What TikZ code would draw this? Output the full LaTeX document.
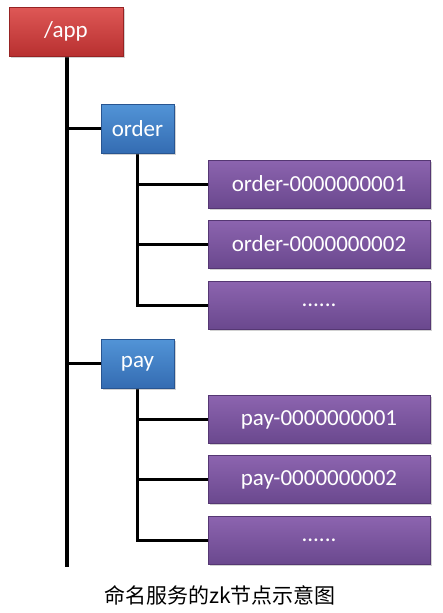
\documentclass[tikz,border=0pt]{standalone}
\usepackage{fontspec}
\setmainfont{Carlito}
\newfontfamily\cjk{Noto Sans CJK SC}
\usetikzlibrary{shadows}
\definecolor{redT}{RGB}{222,88,86}
\definecolor{redB}{RGB}{184,48,48}
\definecolor{redD}{RGB}{150,35,35}
\definecolor{bluT}{RGB}{82,148,215}
\definecolor{bluB}{RGB}{52,108,178}
\definecolor{bluD}{RGB}{40,85,145}
\definecolor{purT}{RGB}{140,100,175}
\definecolor{purB}{RGB}{106,72,142}
\definecolor{purD}{RGB}{85,55,115}
\tikzset{
  x=1pt,y=-1pt,
  boxbase/.style={rectangle,inner sep=0pt,text=white,draw,line width=0.6pt,
    drop shadow={shadow xshift=1.5pt,shadow yshift=-1.5pt,opacity=0.35},
    font=\fontsize{23}{26}\selectfont},
  redbox/.style={boxbase,top color=redT,bottom color=redB,draw=redD,minimum width=114pt,minimum height=49pt},
  blubox/.style={boxbase,top color=bluT,bottom color=bluB,draw=bluD,minimum width=73pt,minimum height=49pt},
  purbox/.style={boxbase,top color=purT,bottom color=purB,draw=purD,minimum width=222pt,minimum height=48pt},
  trunk/.style={line width=4pt,black},
  branch/.style={line width=3pt,black},
}
\begin{document}
\begin{tikzpicture}
\useasboundingbox (0,0) rectangle (443,613);
\fill[white] (0,0) rectangle (443,613);
\coordinate (tend) at (67,567);
\coordinate (oend) at (137,305);
\coordinate (pend) at (137,540);
% lines first
\draw[trunk] (67,56) -- (tend);
\draw[branch] (67,128.5) -- (101,128.5);
\draw[branch] (67,363.5) -- (101,363.5);
\draw[branch] (137,153) -- (oend) -- (208,305);
\draw[branch] (137,184) -- (208,184);
\draw[branch] (137,244) -- (208,244);
\draw[branch] (137,387) -- (pend) -- (208,540);
\draw[branch] (137,419) -- (208,419);
\draw[branch] (137,479) -- (208,479);
% nodes
\node[redbox] (app) at (66,31.5) {/app};
\node[blubox] (order) at (137.5,128.5) {order};
\node[purbox] (o1) at (319,184) {order-0000000001};
\node[purbox] (o2) at (319,244) {order-0000000002};
\node[purbox] (o3) at (319,305) {......};
\node[blubox] (pay) at (137.5,363.5) {pay};
\node[purbox] (p1) at (319,419.5) {pay-0000000001};
\node[purbox] (p2) at (319,479.5) {pay-0000000002};
\node[purbox] (p3) at (319,540.5) {......};
\node[font=\cjk\fontsize{21}{24}\selectfont] (cap) at (220,595) {命名服务的zk节点示意图};
\end{tikzpicture}
\end{document}
